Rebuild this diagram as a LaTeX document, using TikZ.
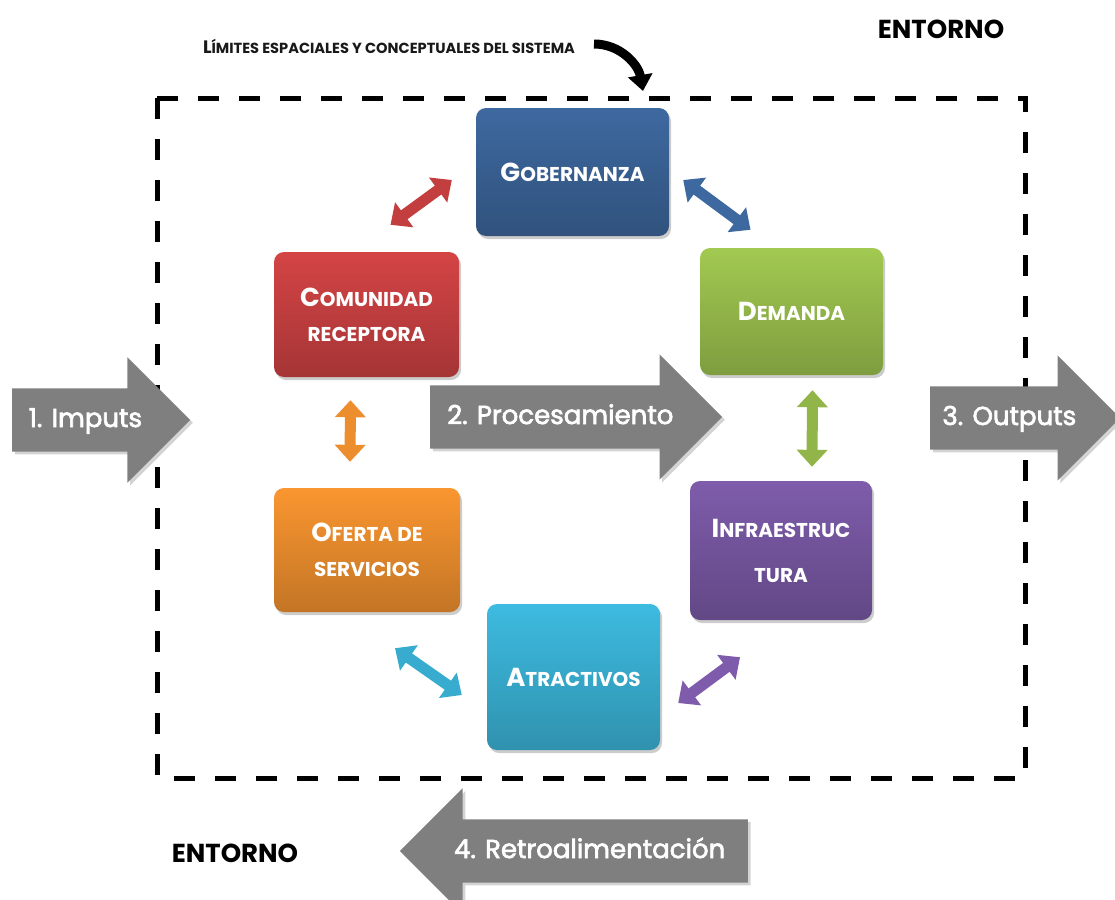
\documentclass[tikz,border=0pt]{standalone}
\usepackage{fontspec}
\setmainfont{Poppins}
\usepackage{xcolor}
\usetikzlibrary{shapes,arrows.meta,positioning,shadows,calc}

\definecolor{azul}{HTML}{3E69A0}
\definecolor{verde}{HTML}{A2C951}
\definecolor{rojo}{HTML}{D44445}
\definecolor{naranja}{HTML}{FA9630}
\definecolor{morado}{HTML}{7E5CAB}
\definecolor{cian}{HTML}{3DBBE0}
\definecolor{gris}{HTML}{7F7F7F}

\newcommand{\grande}{\fontsize{26}{35}\selectfont}
\newcommand{\chica}{\fontsize{20}{35}\selectfont}

\begin{document}
\begin{tikzpicture}[
    x=1pt, y=-1pt,
    bloque/.style={rectangle, rounded corners=10pt, align=center, text=white, font=\chica\bfseries, top color=#1, bottom color=#1!78!black, drop shadow={opacity=0.4, shadow xshift=2pt, shadow yshift=-3pt}},
    flecha/.style={single arrow, anchor=tail, fill=gris, text=white, font=\fontsize{26}{30}\selectfont\addfontfeatures{FakeBold=2.5}, single arrow head extend=31pt, inner xsep=0pt, inner ysep=18.5pt, text height=20pt, text depth=6pt, drop shadow={opacity=0.35}},
    doble/.style={line width=11pt, draw=#1, {Triangle[length=17pt,width=30pt]}-{Triangle[length=17pt,width=30pt]}},
    limite/.style={line width=5pt, dash pattern=on 21pt off 20pt},
    entorno/.style={font=\fontsize{26}{30}\selectfont\bfseries}
]
\useasboundingbox (0,0) rectangle (1115,899);

% limites del sistema
\draw[limite] (157,98) rectangle (1025,778);
\node[font=\fontsize{14.6}{17}\selectfont\bfseries, text=black!90] (lim) at (389,46) {{\fontsize{18}{20}\selectfont L}ÍMITES ESPACIALES Y CONCEPTUALES DEL SISTEMA};
\coordinate (ci) at (594,44);
\coordinate (cf) at (643,91);
\draw[line width=9pt, -{Triangle[length=16pt,width=24pt]}] (ci) to[out=0, in=100] (cf);

\node[entorno] (ent1) at (941,29) {ENTORNO};
\node[entorno] (ent2) at (235,853) {ENTORNO};

% subsistemas
\node[bloque=azul, minimum width=193pt, minimum height=128pt] (gob) at (572.5,172) {{\grande G}OBERNANZA};
\node[bloque=verde, minimum width=183pt, minimum height=127pt] (dem) at (791.5,311.5) {{\grande D}EMANDA};
\node[bloque=rojo, minimum width=185pt, minimum height=125pt] (com) at (366.5,314.5) {{\grande C}OMUNIDAD\\RECEPTORA};
\node[bloque=naranja, minimum width=186pt, minimum height=124pt] (ofe) at (367,550) {{\grande O}FERTA DE\\SERVICIOS};
\node[bloque=morado, minimum width=182pt, minimum height=139pt] (inf) at (781,550.5) {{\grande I}NFRAESTRUC\\[10pt]TURA};
\node[bloque=cian, minimum width=173pt, minimum height=146pt] (atr) at (573.5,677) {{\grande A}TRACTIVOS};

% relaciones
\draw[doble=rojo!92!black] ([shift={(24,-27)}]com.north) -- ([shift={(-24,8)}]gob.west);
\draw[doble=azul] ([shift={(14,8)}]gob.east) -- ([shift={(-41,-18)}]dem.north);
\draw[doble=naranja!95!black] ([shift={(-16,23)}]com.south) -- ([shift={(-17,-26)}]ofe.north);
\draw[doble=verde!90!black] ([shift={(21,15)}]dem.south) -- ([shift={(31,-14)}]inf.north);
\draw[doble=cian!92!black] ([shift={(28,36)}]ofe.south) -- ([shift={(-25,18)}]atr.west);
\draw[doble=morado] ([shift={(18,26)}]atr.east) -- ([shift={(-41,37)}]inf.south);

% flujo
\node[flecha, minimum height=178pt] (imp) at (12,420) {1. Imputs};
\node[flecha, minimum height=292pt] (pro) at (430,417) {2. Procesamiento};
\node[flecha, minimum height=190pt] (out) at (930,418) {3. Outputs};
\node[flecha, shape border rotate=180, minimum height=348pt] (ret) at (748,851) {4. Retroalimentación};

\end{tikzpicture}
\end{document}
